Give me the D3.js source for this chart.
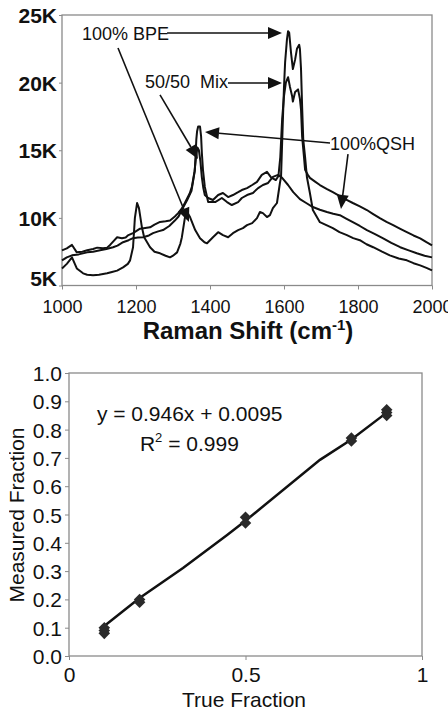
<!DOCTYPE html>
<html lang="en">
<head>
<meta charset="UTF-8">
<title>Raman spectra and calibration</title>
<script src="https://cdn.jsdelivr.net/npm/d3@7"></script>
<style>
  body { margin: 0; background: #fff; }
  svg { display: block; font-family: "Liberation Sans", Arial, sans-serif; }
</style>
</head>
<body>
<svg id="chart" width="448" height="710"></svg>
<script>
// ---- top panel data: Raman shift (cm-1), intensity (K counts)
const bpe = [
  [1000,6.26],[1013,6.6],[1027,7.08],[1040,6.26],[1057,5.9],[1068,5.8],[1084,5.75],[1100,5.8],
  [1122,5.9],[1135,6.0],[1149,6.1],[1165,6.34],[1178,6.6],[1184,6.86],[1192,7.83],[1197,10.0],
  [1203,11.1],[1208,10.72],[1216,9.3],[1222,8.57],[1238,7.83],[1250,7.5],[1265,7.38],[1280,7.2],
  [1292,7.08],[1300,7.2],[1311,7.45],[1320,8.1],[1324,8.57],[1332,9.98],[1338,10.43],[1346,10.06],
  [1360,9.1],[1373,8.5],[1385,8.2],[1392,8.12],[1408,8.57],[1422,8.94],[1435,8.72],[1449,8.57],
  [1462,8.87],[1476,9.09],[1489,9.24],[1500,9.46],[1514,9.61],[1527,9.98],[1535,10.43],[1543,10.35],
  [1554,10.06],[1562,10.2],[1570,10.72],[1581,11.1],[1589,12.58],[1592,13.03],[1597,17.27],[1600,19.7],
  [1603,21.5],[1608,23.2],[1611,23.8],[1614,23.7],[1619,22.2],[1624,21.0],[1630,21.7],[1635,22.5],
  [1641,22.8],[1643,22.5],[1646,21.0],[1649,18.2],[1652,15.8],[1657,14.5],[1662,13.0],[1670,11.84],
  [1678,10.58],[1697,9.68],[1716,9.45],[1732,9.24],[1750,8.95],[1770,8.72],[1787,8.5],[1805,8.35],
  [1823,8.05],[1841,7.83],[1865,7.5],[1886,7.23],[1910,7.0],[1932,6.86],[1950,6.65],[1968,6.49],
  [1985,6.3],[2000,6.12]
];
const mix = [
  [1000,7.6],[1013,7.75],[1027,8.0],[1040,7.45],[1055,7.5],[1068,7.6],[1084,7.7],[1095,7.8],
  [1111,7.75],[1122,7.8],[1130,8.0],[1140,8.3],[1149,8.57],[1162,8.5],[1172,8.55],[1178,8.7],
  [1192,8.87],[1211,9.2],[1225,9.25],[1238,9.3],[1250,9.5],[1265,9.7],[1280,9.75],[1292,9.8],
  [1305,10.1],[1314,10.35],[1324,10.7],[1332,11.1],[1345,11.8],[1351,12.3],[1358,13.4],[1362,14.4],
  [1366,15.2],[1370,15.0],[1374,14.2],[1378,13.0],[1382,12.2],[1386,11.69],[1395,11.47],[1408,11.32],
  [1422,11.69],[1435,11.84],[1449,11.54],[1462,11.69],[1476,11.9],[1486,12.06],[1500,12.2],[1514,12.43],
  [1527,12.66],[1540,13.18],[1554,13.4],[1565,13.0],[1578,12.8],[1585,13.1],[1590,14.5],[1595,17.3],
  [1600,19.0],[1605,20.0],[1611,20.4],[1616,19.7],[1622,19.0],[1624,18.6],[1630,19.3],[1638,19.5],
  [1643,18.8],[1646,18.0],[1649,16.0],[1654,14.5],[1657,13.55],[1664,13.2],[1670,12.96],[1683,12.7],
  [1697,12.43],[1715,12.15],[1732,11.9],[1745,11.7],[1759,11.47],[1772,11.3],[1786,11.1],[1805,10.85],
  [1824,10.58],[1840,10.3],[1859,9.98],[1877,9.7],[1895,9.46],[1913,9.2],[1932,8.94],[1950,8.7],
  [1968,8.49],[1985,8.2],[2000,7.97]
];
const qsh = [
  [1000,6.86],[1013,7.08],[1027,7.23],[1045,7.3],[1068,7.45],[1084,7.5],[1103,7.6],[1120,7.7],
  [1138,7.83],[1150,7.95],[1165,8.2],[1180,8.35],[1192,8.5],[1205,8.55],[1219,8.57],[1235,8.7],
  [1246,8.87],[1260,9.0],[1273,9.1],[1290,9.4],[1305,9.8],[1315,10.1],[1324,10.6],[1338,11.3],
  [1350,12.0],[1359,13.5],[1363,15.78],[1365,16.38],[1368,16.75],[1373,16.75],[1376,16.0],[1378,14.8],
  [1381,13.55],[1386,12.29],[1392,11.54],[1395,11.17],[1400,11.17],[1414,11.17],[1432,11.47],[1446,11.17],
  [1459,10.95],[1476,11.17],[1486,11.47],[1500,11.69],[1516,11.84],[1530,12.2],[1543,12.43],[1557,12.58],
  [1570,13.03],[1584,13.18],[1595,12.96],[1611,12.43],[1625,11.9],[1643,11.39],[1660,11.1],[1678,10.8],
  [1697,10.6],[1716,10.43],[1733,10.3],[1751,10.2],[1768,9.95],[1786,9.68],[1805,9.4],[1824,9.09],
  [1846,8.8],[1868,8.49],[1890,8.15],[1914,7.83],[1937,7.6],[1959,7.38],[1980,7.2],[2000,7.08]
];
const topXTicks = [1000, 1200, 1400, 1600, 1800, 2000];
const topYTicks = [5, 10, 15, 20, 25];

// labels and arrows on the spectra, in data units
const specLabels = [
  { text: "100% BPE", x: 1054, y: 23.15 },
  { text: "50/50  Mix", x: 1224, y: 19.6 },
  { text: "100%QSH", x: 1724, y: 15.02 }
];
const specArrows = [
  [1284, 23.67, 1594.6, 23.67],
  [1448.6, 19.97, 1594.6, 19.97],
  [1151.4, 22.56, 1343.2, 9.7],
  [1264.9, 19.09, 1367.6, 14.35],
  [1724.3, 15.54, 1386.5, 16.35],
  [1773, 14.72, 1754, 10.66]
];

// ---- bottom panel data: true vs measured fraction
const trueFrac = [0.1, 0.1, 0.1, 0.2, 0.2, 0.5, 0.5, 0.8, 0.8, 0.9, 0.9, 0.9];
const measFrac = [0.10, 0.09, 0.08, 0.20, 0.19, 0.49, 0.47, 0.77, 0.76, 0.87, 0.86, 0.85];
const fitX = [0.1, 0.2, 0.323, 0.448, 0.5, 0.711, 0.8, 0.9];
const fitY = [0.106, 0.205, 0.311, 0.428, 0.478, 0.693, 0.765, 0.86];
const botYTicks = [0, 0.1, 0.2, 0.3, 0.4, 0.5, 0.6, 0.7, 0.8, 0.9, 1.0];
const botXTicks = [0, 0.5, 1];

const svg = d3.select("#chart");
const ink = "#111";
const frame = "#8a8a8a";

// ================= top panel =================
const tx = d3.scaleLinear().domain([1000, 2000]).range([62, 432]);
const ty = d3.scaleLinear().domain([5, 25]).range([285.5, 15]);

const topG = svg.append("g");

topG.append("rect")
  .attr("x", tx(1000)).attr("y", ty(25))
  .attr("width", tx(2000) - tx(1000)).attr("height", ty(5) - ty(25))
  .attr("fill", "none").attr("stroke", frame).attr("stroke-width", 1.3);

const tAxX = topG.append("g")
  .attr("transform", `translate(0,${ty(5)})`)
  .call(d3.axisBottom(tx).tickValues(topXTicks).tickSize(4).tickFormat(d3.format("d")));
tAxX.select(".domain").remove();
tAxX.selectAll("line").attr("stroke", frame);
tAxX.selectAll("text")
  .attr("y", 27.5).attr("dy", 0)
  .attr("font-size", 18).attr("fill", ink)
  .attr("font-family", "Liberation Sans, Arial, sans-serif");

const tAxY = topG.append("g")
  .attr("transform", `translate(${tx(1000)},0)`)
  .call(d3.axisLeft(ty).tickValues(topYTicks).tickSize(3).tickFormat(d => d + "K"));
tAxY.select(".domain").remove();
tAxY.selectAll("line").attr("stroke", frame);
tAxY.selectAll("text")
  .attr("x", -5).attr("dy", d => d === 5 ? "0.02em" : "0.36em")
  .attr("font-size", 21).attr("font-weight", "bold").attr("fill", ink)
  .attr("font-family", "Liberation Sans, Arial, sans-serif");

const specLine = d3.line().x(d => tx(d[0])).y(d => ty(d[1]));
[bpe, mix, qsh].forEach(s => {
  topG.append("path")
    .attr("d", specLine(s))
    .attr("fill", "none").attr("stroke", ink)
    .attr("stroke-width", 2).attr("stroke-linejoin", "round");
});

function arrow(g, x1, y1, x2, y2) {
  const dx = x2 - x1, dy = y2 - y1, len = Math.hypot(dx, dy);
  const ux = dx / len, uy = dy / len, hl = 14, hw = 6;
  const bx = x2 - ux * hl, by = y2 - uy * hl;
  g.append("line")
    .attr("x1", x1).attr("y1", y1).attr("x2", bx).attr("y2", by)
    .attr("stroke", ink).attr("stroke-width", 1.6);
  g.append("path")
    .attr("d", `M${x2},${y2}L${bx - uy * hw},${by + ux * hw}L${bx + uy * hw},${by - ux * hw}Z`)
    .attr("fill", ink);
}
specArrows.forEach(a => arrow(topG, tx(a[0]), ty(a[1]), tx(a[2]), ty(a[3])));

topG.selectAll(".lab")
  .data(specLabels)
  .enter().append("text")
  .attr("x", d => tx(d.x)).attr("y", d => ty(d.y))
  .attr("font-size", 18).attr("fill", ink)
  .style("white-space", "pre")
  .text(d => d.text);

const ttl = topG.append("text")
  .attr("x", 248).attr("y", 339)
  .attr("text-anchor", "middle")
  .attr("font-size", 24).attr("font-weight", "bold").attr("fill", ink);
ttl.append("tspan").text("Raman Shift (cm");
ttl.append("tspan").attr("font-size", 15).attr("dy", -9).text("-1");
ttl.append("tspan").attr("dy", 9).text(")");

// ================= bottom panel =================
const bx = d3.scaleLinear().domain([0, 1]).range([69, 422]);
const by = d3.scaleLinear().domain([0, 1]).range([656, 373]);

const botG = svg.append("g");

botG.append("rect")
  .attr("x", bx(0)).attr("y", by(1))
  .attr("width", bx(1) - bx(0)).attr("height", by(0) - by(1))
  .attr("fill", "none").attr("stroke", frame).attr("stroke-width", 1.3);

const bAxX = botG.append("g")
  .attr("transform", `translate(0,${by(0)})`)
  .call(d3.axisBottom(bx).tickValues(botXTicks).tickSize(4).tickFormat(d => d === 0.5 ? "0.5" : d3.format("d")(d)));
bAxX.select(".domain").remove();
bAxX.selectAll("line").attr("stroke", frame);
bAxX.selectAll("text")
  .attr("y", 26).attr("dy", 0)
  .attr("font-size", 21).attr("fill", ink)
  .attr("font-family", "Liberation Sans, Arial, sans-serif");

const bAxY = botG.append("g")
  .attr("transform", `translate(${bx(0)},0)`)
  .call(d3.axisLeft(by).tickValues(botYTicks).tickSize(4).tickFormat(d3.format(".1f")));
bAxY.select(".domain").remove();
bAxY.selectAll("line").attr("stroke", frame);
bAxY.selectAll("text")
  .attr("x", -7).attr("dy", "0.36em")
  .attr("font-size", 21).attr("fill", ink)
  .attr("font-family", "Liberation Sans, Arial, sans-serif");

botG.append("path")
  .datum(fitX.map((x, i) => [x, fitY[i]]))
  .attr("d", d3.line().x(d => bx(d[0])).y(d => by(d[1])))
  .attr("fill", "none").attr("stroke", ink).attr("stroke-width", 2.5);

botG.selectAll(".pt")
  .data(trueFrac.map((x, i) => [x, measFrac[i]]))
  .enter().append("path")
  .attr("transform", d => `translate(${bx(d[0])},${by(d[1])})`)
  .attr("d", d3.symbol(d3.symbolDiamond2).size(85))
  .attr("fill", "#2a2a2a");

botG.append("text")
  .attr("x", bx(0.079)).attr("y", by(0.83))
  .attr("font-size", 21).attr("fill", ink)
  .text("y = 0.946x + 0.0095");
const r2 = botG.append("text")
  .attr("x", bx(0.201)).attr("y", by(0.724))
  .attr("font-size", 21).attr("fill", ink);
r2.append("tspan").text("R");
r2.append("tspan").attr("font-size", 13).attr("dy", -9).text("2");
r2.append("tspan").attr("dy", 9).text(" = 0.999");

botG.append("text")
  .attr("x", 244).attr("y", 707)
  .attr("text-anchor", "middle")
  .attr("font-size", 21).attr("fill", ink)
  .text("True Fraction");

// y title sits at the left edge, its tops cut like the original scan
svg.append("clipPath").attr("id", "edge")
  .append("rect").attr("x", 9).attr("y", 0).attr("width", 439).attr("height", 710);
botG.append("g")
  .attr("clip-path", "url(#edge)")
  .append("text")
  .attr("transform", "translate(24,515) rotate(-90)")
  .attr("text-anchor", "middle")
  .attr("font-size", 21).attr("fill", ink)
  .text("Measured Fraction");
</script>
</body>
</html>
